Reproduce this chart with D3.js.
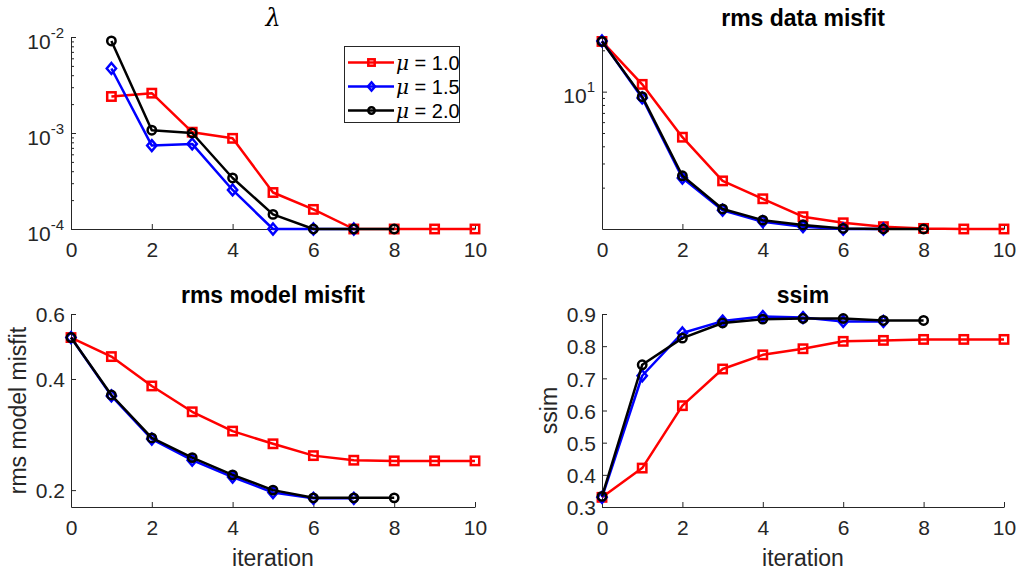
<!DOCTYPE html>
<html>
<head>
<meta charset="utf-8">
<script src="https://cdn.jsdelivr.net/npm/d3@7"></script>
<style>
  body { margin: 0; background: #fff; }
  svg { font-family: 'Liberation Sans', Arial, Helvetica, sans-serif; }
</style>
</head>
<body>
<div id="chart"></div>
<script>
// iterations on the x axis
const iterations = [0, 1, 2, 3, 4, 5, 6, 7, 8, 9, 10];
const xTicks = [0, 2, 4, 6, 8, 10];

// series names
const seriesNames = ['\u03bc = 1.0', '\u03bc = 1.5', '\u03bc = 2.0'];

// lambda (no value at iteration 0)
const lambdaMu10 = [null, 2.4e-3, 2.6e-3, 1.02e-3, 8.8e-4, 2.4e-4, 1.6e-4, 1e-4, 1e-4, 1e-4, 1e-4];
const lambdaMu15 = [null, 4.7e-3, 7.4e-4, 7.7e-4, 2.55e-4, 1e-4, 1e-4, 1e-4];
const lambdaMu20 = [null, 9.1e-3, 1.07e-3, 1.0e-3, 3.4e-4, 1.42e-4, 1e-4, 1e-4, 1e-4];
const lambdaTicks = [1e-4, 1e-3, 1e-2];

// rms data misfit
const dataMu10 = [23.2, 11.3, 4.66, 2.24, 1.66, 1.23, 1.11, 1.04, 1.01, 1.0, 1.0];
const dataMu15 = [23.4, 9.0, 2.35, 1.37, 1.13, 1.04, 1.0, 1.0];
const dataMu20 = [23.2, 9.2, 2.44, 1.40, 1.16, 1.07, 1.01, 1.0, 1.0];
const dataTicks = [10];

// rms model misfit
const modelMu10 = [0.518, 0.46, 0.383, 0.326, 0.289, 0.267, 0.248, 0.241, 0.240, 0.240, 0.240];
const modelMu15 = [0.518, 0.360, 0.275, 0.241, 0.217, 0.197, 0.190, 0.190];
const modelMu20 = [0.518, 0.362, 0.277, 0.245, 0.220, 0.200, 0.1906, 0.1906, 0.1906];
const modelTicks = [0.2, 0.4, 0.6];

// ssim
const ssimMu10 = [0.33, 0.421, 0.615, 0.729, 0.773, 0.792, 0.815, 0.818, 0.821, 0.821, 0.821];
const ssimMu15 = [0.33, 0.708, 0.841, 0.878, 0.892, 0.889, 0.877, 0.877];
const ssimMu20 = [0.333, 0.742, 0.825, 0.872, 0.884, 0.886, 0.886, 0.880, 0.880];
const ssimTicks = [0.3, 0.4, 0.5, 0.6, 0.7, 0.8, 0.9];

const colors = ['#ff0000', '#0000ff', '#000000'];
const markers = ['square', 'diamond', 'circle'];
const axisColor = '#262626';
const lw = 2.5;

const svg = d3.select('#chart').append('svg')
  .attr('width', 1020)
  .attr('height', 574);

function drawMarker(sel, type, x, y, color, s) {
  if (type === 'square') {
    sel.append('rect')
      .attr('x', x - s).attr('y', y - s)
      .attr('width', 2 * s).attr('height', 2 * s)
      .attr('fill', 'none').attr('stroke', color).attr('stroke-width', lw);
  } else if (type === 'diamond') {
    const d = s * 1.3;
    sel.append('path')
      .attr('d', `M${x},${y - d}L${x + d * 0.85},${y}L${x},${y + d}L${x - d * 0.85},${y}Z`)
      .attr('fill', 'none').attr('stroke', color).attr('stroke-width', lw);
  } else {
    sel.append('circle')
      .attr('cx', x).attr('cy', y).attr('r', s)
      .attr('fill', 'none').attr('stroke', color).attr('stroke-width', lw);
  }
}

function panel(opts) {
  const { left, right, top, bottom, yScale, series, yTicks, minor, pow, title, titleItalic, ylabel, xlabel } = opts;
  const g = svg.append('g');

  const x = d3.scaleLinear().domain([0, 10]).range([left, right]);
  const y = yScale.range([bottom, top]);

  // x axis with inward ticks
  const xa = g.append('g')
    .attr('transform', `translate(0,${bottom})`)
    .call(d3.axisBottom(x).tickValues(xTicks).tickSizeInner(-5).tickSizeOuter(0).tickPadding(13));
  xa.selectAll('.tick text').attr('font-size', 21).attr('fill', axisColor).attr('dy', '0.71em');

  // y axis
  const ya = g.append('g')
    .attr('transform', `translate(${left},0)`)
    .call(d3.axisLeft(y).tickValues(yTicks).tickSizeInner(-5).tickSizeOuter(0).tickPadding(6)
      .tickFormat(pow ? () => '' : d3.format('.1f')));
  ya.selectAll('.tick text').attr('font-size', 21).attr('fill', axisColor).attr('dy', '0.37em');

  if (pow) {
    ya.selectAll('.tick text').each(function(d) {
      const t = d3.select(this).attr('dy', null).attr('y', 11).attr('x', -7);
      t.append('tspan').text('10');
      t.append('tspan').attr('font-size', 15).attr('dy', -11).text(Math.round(Math.log10(d)));
    });
  }

  if (minor) {
    g.append('g').selectAll('line').data(minor).join('line')
      .attr('x1', left).attr('x2', left + 3)
      .attr('y1', d => y(d) + 0.5).attr('y2', d => y(d) + 0.5)
      .attr('stroke', axisColor).attr('stroke-width', 1);
  }

  [xa, ya].forEach(a => {
    a.select('.domain').attr('stroke', axisColor);
    a.selectAll('.tick line').attr('stroke', axisColor);
  });

  // title
  const tt = g.append('text')
    .attr('x', (left + right) / 2).attr('y', top - 11)
    .attr('text-anchor', 'middle')
    .attr('fill', '#000')
    .text(title);
  if (titleItalic) {
    tt.attr('font-family', "'DejaVu Serif', 'Liberation Serif', serif")
      .attr('font-style', 'italic').attr('font-size', 24);
  } else {
    tt.attr('font-weight', 'bold').attr('font-size', 23);
  }

  if (ylabel) {
    g.append('text')
      .attr('transform', `translate(${ylabel.x},${(top + bottom) / 2}) rotate(-90)`)
      .attr('text-anchor', 'middle')
      .attr('font-size', 23)
      .attr('fill', axisColor)
      .text(ylabel.text);
  }
  if (xlabel) {
    g.append('text')
      .attr('x', (left + right) / 2).attr('y', 566)
      .attr('text-anchor', 'middle')
      .attr('font-size', 23)
      .attr('fill', axisColor)
      .text(xlabel);
  }

  // series
  const line = d3.line()
    .defined(d => d.v != null)
    .x(d => x(d.i))
    .y(d => y(d.v));

  series.forEach((vals, k) => {
    const pts = vals.map((v, idx) => ({ i: iterations[idx], v }));
    g.append('path')
      .datum(pts)
      .attr('d', line)
      .attr('fill', 'none')
      .attr('stroke', colors[k])
      .attr('stroke-width', lw)
      .attr('stroke-linejoin', 'round');
    const mg = g.append('g');
    pts.filter(p => p.v != null).forEach(p => drawMarker(mg, markers[k], x(p.i), y(p.v), colors[k], 4.2));
  });

  return g;
}

// top-left: lambda
panel({
  left: 71, right: 475, top: 37, bottom: 229,
  yScale: d3.scaleLog().domain([1e-4, 1e-2]),
  series: [lambdaMu10, lambdaMu15, lambdaMu20],
  yTicks: lambdaTicks,
  minor: [2e-4, 3e-4, 4e-4, 5e-4, 6e-4, 7e-4, 8e-4, 9e-4, 2e-3, 3e-3, 4e-3, 5e-3, 6e-3, 7e-3, 8e-3, 9e-3],
  pow: true,
  title: '\u03bb', titleItalic: true
});

// top-right: rms data misfit
panel({
  left: 602, right: 1004, top: 37, bottom: 229,
  yScale: d3.scaleLog().domain([1, 25]),
  series: [dataMu10, dataMu15, dataMu20],
  yTicks: dataTicks,
  minor: [2, 3, 4, 5, 6, 7, 8, 9, 20],
  pow: true,
  title: 'rms data misfit'
});

// bottom-left: rms model misfit
panel({
  left: 71, right: 475, top: 314, bottom: 507,
  yScale: d3.scaleLog().domain([0.18, 0.6]),
  series: [modelMu10, modelMu15, modelMu20],
  yTicks: modelTicks,
  title: 'rms model misfit',
  ylabel: { text: 'rms model misfit', x: 26 },
  xlabel: 'iteration'
});

// bottom-right: ssim
panel({
  left: 602, right: 1004, top: 314, bottom: 507,
  yScale: d3.scaleLinear().domain([0.3, 0.9]),
  series: [ssimMu10, ssimMu15, ssimMu20],
  yTicks: ssimTicks,
  title: 'ssim',
  ylabel: { text: 'ssim', x: 557 },
  xlabel: 'iteration'
});

// legend in the lambda panel
const lg = svg.append('g');
lg.append('rect')
  .attr('x', 344.5).attr('y', 46.5)
  .attr('width', 115).attr('height', 76)
  .attr('fill', '#fff')
  .attr('stroke', axisColor)
  .attr('stroke-width', 1);
seriesNames.forEach((name, k) => {
  const yy = 62.5 + k * 24;
  lg.append('line')
    .attr('x1', 348).attr('x2', 394)
    .attr('y1', yy).attr('y2', yy)
    .attr('stroke', colors[k]).attr('stroke-width', lw);
  drawMarker(lg, markers[k], 371.5, yy, colors[k], 3.2);
  const t = lg.append('text')
    .attr('x', 396).attr('y', yy + 7)
    .attr('font-size', 20)
    .attr('fill', '#000');
  t.append('tspan')
    .attr('font-family', "'DejaVu Serif', 'Liberation Serif', serif")
    .attr('font-style', 'italic')
    .text(name.slice(0, 1));
  t.append('tspan').text(name.slice(1));
});
</script>
</body>
</html>
